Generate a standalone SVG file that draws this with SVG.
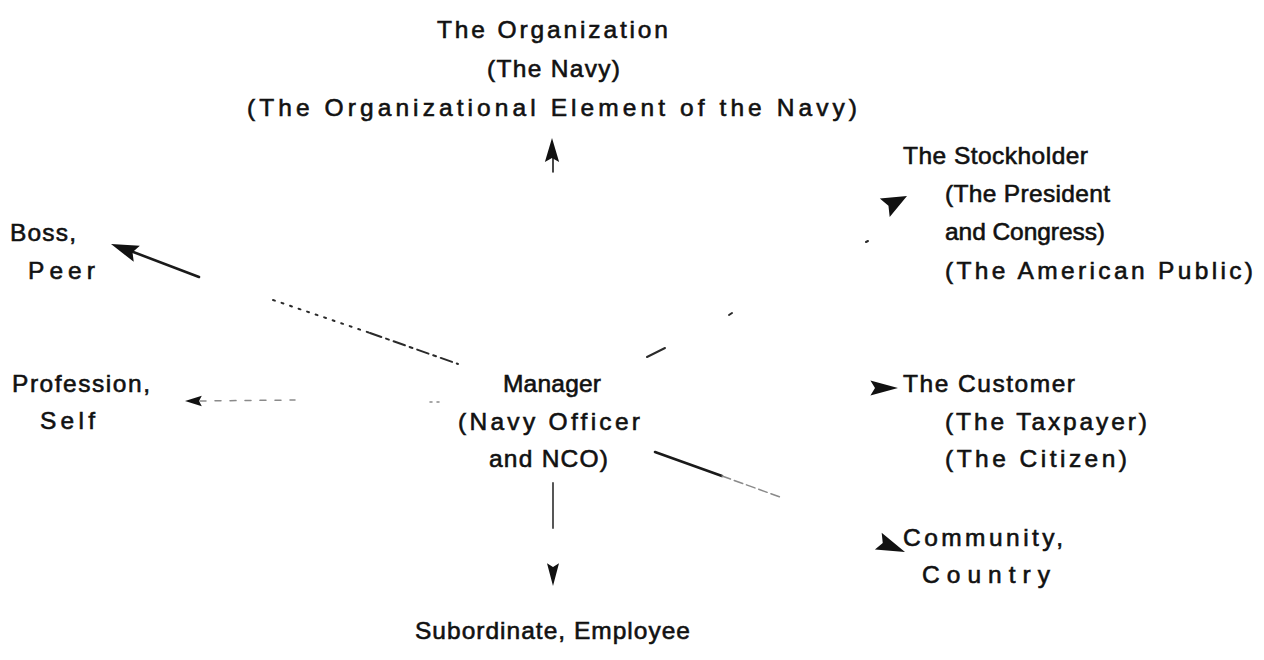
<svg xmlns="http://www.w3.org/2000/svg" xmlns:xlink="http://www.w3.org/1999/xlink" width="1264" height="660" viewBox="0 0 1264 660">
  <style>
    .t { font-family: "Liberation Sans", Arial, sans-serif; font-size: 24.5px; fill: #111; stroke: #111; stroke-width: 0.6; }
    .shaft { stroke: #1a1a1a; stroke-width: 2.6; fill: none; stroke-linecap: round; }
    .dash { stroke: #2a2a2a; stroke-width: 2; fill: none; stroke-linecap: round; }
    .faint { stroke: #8a8a8a; stroke-width: 1.5; fill: none; stroke-linecap: round; }
    .head { fill: #111; }
  </style>
  <defs>
    <!-- solid arrowhead with a shallow notch, pointing along +x, tip at the origin -->
    <path id="arrowhead" d="M0,0 L-24,-7.5 L-20,0 L-24,7.5 Z"/>
  </defs>

  <rect width="1264" height="660" fill="#fff"/>

  <!-- connectors -->
  <g id="connectors">
    <!-- up to the organization -->
    <line class="shaft" x1="553" y1="172" x2="553" y2="156" style="stroke-width:1.6"/>
    <use href="#arrowhead" class="head" transform="translate(552,138) rotate(-90) scale(1.0,0.95)"/>

    <!-- to boss / peer -->
    <line class="shaft" x1="199" y1="277" x2="128" y2="250"/>
    <path class="dash" d="M273,300 L370,333" stroke-dasharray="2 7"/>
    <path class="dash" d="M370,333 L458,364" stroke-dasharray="12 5 3 5"/>
    <use href="#arrowhead" class="head" transform="translate(111,244) rotate(200.8) scale(1.15,1.15)"/>

    <!-- to profession / self -->
    <path class="faint" d="M200,401 L295,400" stroke-dasharray="6 9"/>
    <path class="faint" d="M430,402 L442,402" stroke-dasharray="2 5"/>
    <use href="#arrowhead" class="head" transform="translate(185,401) rotate(180) scale(0.7,0.7)"/>

    <!-- to the stockholder -->
    <path class="dash" d="M647,357 L665,348"/>
    <path class="dash" d="M729,315 L732,313"/>
    <path class="dash" d="M866,242 L868,241"/>
    <use href="#arrowhead" class="head" transform="translate(907,196) rotate(-28) scale(1.05,1.4)"/>

    <!-- to the customer -->
    <use href="#arrowhead" class="head" transform="translate(898,388) rotate(0) scale(1.15,1.0)"/>

    <!-- to community / country -->
    <line class="shaft" x1="655" y1="452" x2="722" y2="476"/>
    <path class="faint" d="M722,476 L780,497" stroke-dasharray="9 4"/>
    <use href="#arrowhead" class="head" transform="translate(905,552) rotate(22) scale(1.2,1.2)"/>

    <!-- down to subordinate -->
    <line class="faint" x1="553" y1="483" x2="553" y2="528" style="stroke:#444;stroke-width:1.8"/>
    <use href="#arrowhead" class="head" transform="translate(553,586) rotate(90) scale(0.95,0.8)"/>
  </g>

  <g id="organization">
    <text class="t" x="437" y="38" textLength="231" lengthAdjust="spacing">The Organization</text>
    <text class="t" x="487" y="77" textLength="133" lengthAdjust="spacing">(The Navy)</text>
    <text class="t" x="247" y="116" textLength="610" lengthAdjust="spacing">(The Organizational Element of the Navy)</text>
  </g>

  <g id="boss-peer">
    <text class="t" x="10" y="241" textLength="66" lengthAdjust="spacing">Boss,</text>
    <text class="t" x="28" y="279" textLength="67" lengthAdjust="spacing">Peer</text>
  </g>

  <g id="profession-self">
    <text class="t" x="12" y="392" textLength="138" lengthAdjust="spacing">Profession,</text>
    <text class="t" x="40" y="429" textLength="55" lengthAdjust="spacing">Self</text>
  </g>

  <g id="manager">
    <text class="t" x="503" y="392" textLength="98" lengthAdjust="spacing">Manager</text>
    <text class="t" x="458" y="430" textLength="182" lengthAdjust="spacing">(Navy Officer</text>
    <text class="t" x="489" y="467" textLength="119" lengthAdjust="spacing">and NCO)</text>
  </g>

  <g id="subordinate">
    <text class="t" x="415" y="639" textLength="275" lengthAdjust="spacing">Subordinate, Employee</text>
  </g>

  <g id="stockholder">
    <text class="t" x="903" y="164" textLength="185" lengthAdjust="spacing">The Stockholder</text>
    <text class="t" x="945" y="202" textLength="165" lengthAdjust="spacing">(The President</text>
    <text class="t" x="945" y="240" textLength="160" lengthAdjust="spacing">and Congress)</text>
    <text class="t" x="945" y="279" textLength="308" lengthAdjust="spacing">(The American Public)</text>
  </g>

  <g id="customer">
    <text class="t" x="903" y="392" textLength="172" lengthAdjust="spacing">The Customer</text>
    <text class="t" x="945" y="430" textLength="202" lengthAdjust="spacing">(The Taxpayer)</text>
    <text class="t" x="945" y="467" textLength="182" lengthAdjust="spacing">(The Citizen)</text>
  </g>

  <g id="community">
    <text class="t" x="903" y="546" textLength="160" lengthAdjust="spacing">Community,</text>
    <text class="t" x="922" y="583" textLength="128" lengthAdjust="spacing">Country</text>
  </g>
</svg>
